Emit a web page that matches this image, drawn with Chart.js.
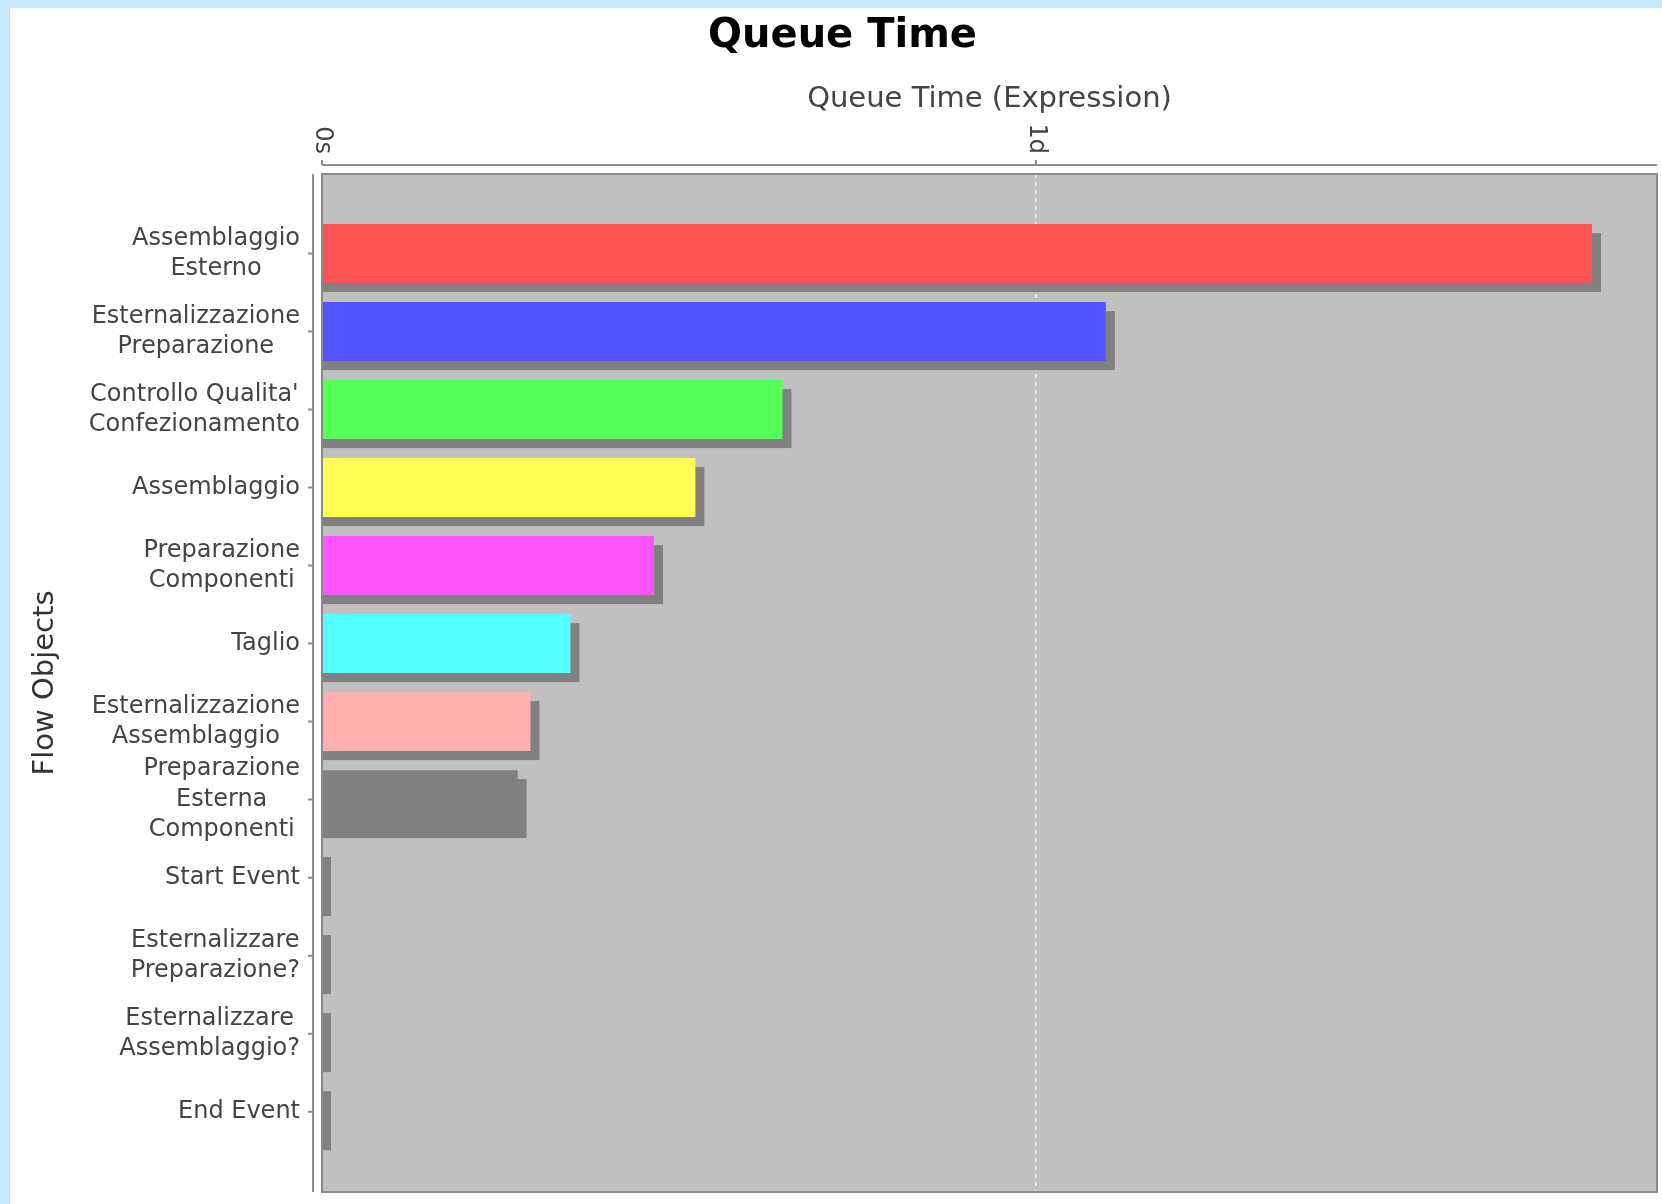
<!DOCTYPE html>
<html>
<head>
<meta charset="utf-8">
<title>Queue Time</title>
<script src="https://cdn.jsdelivr.net/npm/chart.js@4.4.1/dist/chart.umd.min.js"></script>
<style>
  html, body { margin: 0; padding: 0; background: #c6e6f9; }
  #frame { position: absolute; left: 10px; top: 8px; width: 1652px; height: 1196px; background: #fff; }
</style>
</head>
<body>
<div id="frame"><canvas id="chart"></canvas></div>
<script>
// categories top to bottom, one array of lines per label
const categories = [
  ['Assemblaggio', 'Esterno'],
  ['Esternalizzazione', 'Preparazione'],
  ["Controllo Qualita'", 'Confezionamento'],
  ['Assemblaggio'],
  ['Preparazione', 'Componenti'],
  ['Taglio'],
  ['Esternalizzazione', 'Assemblaggio'],
  ['Preparazione', 'Esterna', 'Componenti'],
  ['Start Event'],
  ['Esternalizzare', 'Preparazione?'],
  ['Esternalizzare', 'Assemblaggio?'],
  ['End Event']
];
// queue time in days
const queueDays = [1.779, 1.098, 0.645, 0.523, 0.465, 0.348, 0.292, 0.274, 0, 0, 0, 0];
const barColors = ['#ff5555', '#5555ff', '#55ff55', '#ffff55', '#ff55ff', '#55ffff',
  '#ffafaf', '#808080', '#c00000', '#0000c0', '#00c000', '#c0c000'];
const xTickValues = [0, 1];
const xTickLabels = ['0s', '1d'];
const X_MAX = 1.87;

const PLOT_BG = '#c0c0c0';
const SHADOW = '#808080';
const SHADOW_OFF = 9;
const AXIS_GAP = 9;
const AXIS_COLOR = '#8c8c8c';
const TICK_COLOR = '#444';
const TICK_FONT = '24px "DejaVu Sans"';
const LINE_H = 30.5;

const plotDecor = {
  id: 'plotDecor',
  beforeDraw(chart) {
    const { ctx, chartArea: a } = chart;
    ctx.save();
    ctx.fillStyle = PLOT_BG;
    ctx.fillRect(a.left, a.top, a.width, a.height);
    ctx.restore();
  },
  beforeDatasetsDraw(chart) {
    // shadow pegged at the base, shifted right/down
    const { ctx } = chart;
    ctx.save();
    ctx.fillStyle = SHADOW;
    chart.getDatasetMeta(0).data.forEach((bar) => {
      const { x, y, base, height } = bar.getProps(['x', 'y', 'base', 'height'], true);
      ctx.fillRect(base, y - height / 2 + SHADOW_OFF, x - base + SHADOW_OFF, height);
    });
    ctx.restore();
  },
  afterDatasetsDraw(chart) {
    const { ctx, chartArea: a } = chart;
    ctx.save();
    ctx.strokeStyle = '#8a8a8a';
    ctx.lineWidth = 2;
    ctx.strokeRect(a.left, a.top, a.width, a.height);
    ctx.restore();
  },
  afterDraw(chart) {
    const { ctx, chartArea: a } = chart;
    const xs = chart.scales.x;
    const ys = chart.scales.y;
    ctx.save();
    ctx.strokeStyle = AXIS_COLOR;
    ctx.lineWidth = 2;
    ctx.fillStyle = TICK_COLOR;
    ctx.font = TICK_FONT;

    // top axis
    const axisY = a.top - AXIS_GAP;
    ctx.beginPath();
    ctx.moveTo(a.left, axisY);
    ctx.lineTo(a.right, axisY);
    xTickValues.forEach((v) => {
      const px = xs.getPixelForValue(v);
      ctx.moveTo(px, axisY);
      ctx.lineTo(px, axisY - 5);
    });
    ctx.stroke();
    xTickValues.forEach((v, i) => {
      const px = xs.getPixelForValue(v);
      ctx.save();
      ctx.translate(px, axisY - 11);
      ctx.rotate(Math.PI / 2);
      ctx.textAlign = 'right';
      ctx.textBaseline = 'middle';
      ctx.fillText(xTickLabels[i], 0, 0);
      ctx.restore();
    });

    // left axis
    const axisX = a.left - AXIS_GAP;
    ctx.beginPath();
    ctx.moveTo(axisX, a.top);
    ctx.lineTo(axisX, a.bottom);
    categories.forEach((_, i) => {
      const py = ys.getPixelForValue(i);
      ctx.moveTo(axisX, py);
      ctx.lineTo(axisX - 5, py);
    });
    ctx.stroke();

    // each label block is right-aligned, its lines centred
    ctx.textAlign = 'center';
    ctx.textBaseline = 'middle';
    const right = axisX - 13;
    categories.forEach((lines, i) => {
      const py = ys.getPixelForValue(i);
      const w = Math.max(...lines.map((l) => ctx.measureText(l).width));
      const cx = right - w / 2;
      lines.forEach((line, k) => {
        ctx.fillText(line, cx, py + (k - (lines.length - 1) / 2) * LINE_H);
      });
    });
    ctx.restore();
  }
};

new Chart(document.getElementById('chart'), {
  type: 'bar',
  data: {
    datasets: [{
      data: queueDays.map((v, i) => ({ x: v, y: i })),
      backgroundColor: barColors,
      borderWidth: 0,
      barPercentage: 0.756,
      categoryPercentage: 1
    }]
  },
  options: {
    indexAxis: 'y',
    responsive: true,
    maintainAspectRatio: false,
    animation: false,
    layout: { padding: { left: 18, right: 5, top: 0, bottom: 12 } },
    plugins: {
      legend: { display: false },
      tooltip: { enabled: false },
      title: {
        display: true,
        text: 'Queue Time',
        color: '#000',
        font: { family: 'DejaVu Sans', size: 40, weight: 'bold' },
        padding: { top: 5, bottom: 0 }
      }
    },
    scales: {
      x: {
        type: 'linear',
        position: 'top',
        min: 0,
        max: X_MAX,
        afterBuildTicks: (s) => { s.ticks = xTickValues.map((v) => ({ value: v })); },
        afterFit: (s) => { s.height = 113; },
        ticks: { display: false },
        grid: { color: 'rgba(255,255,255,0.85)', lineWidth: 1.5, drawTicks: false },
        border: { display: false, dash: [4, 4] },
        title: {
          display: true,
          text: 'Queue Time (Expression)',
          color: '#444',
          font: { family: 'DejaVu Sans', size: 29 },
          padding: { top: 21, bottom: 0 }
        }
      },
      y: {
        type: 'linear',
        reverse: true,
        offset: false,
        min: -1.02,
        max: 12.03,
        afterFit: (s) => { s.width = 294; },
        ticks: { display: false },
        grid: { display: false, offset: false },
        border: { display: false },
        title: {
          display: true,
          text: 'Flow Objects',
          color: '#333',
          font: { family: 'DejaVu Sans', size: 29 },
          padding: { top: 0, bottom: 0 }
        }
      }
    }
  },
  plugins: [plotDecor]
});
</script>
</body>
</html>
